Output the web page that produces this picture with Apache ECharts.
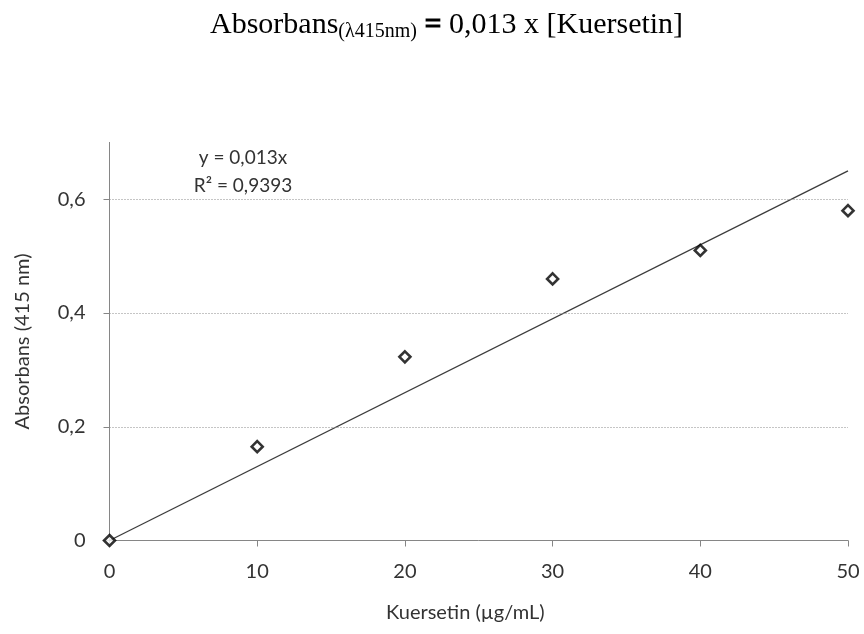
<!DOCTYPE html>
<html>
<head>
<meta charset="utf-8">
<script src="https://cdn.jsdelivr.net/npm/echarts@6/dist/echarts.min.js"></script>
<style>
html,body{margin:0;padding:0;background:#fff;}
#chart{width:864px;height:634px;}
</style>
</head>
<body>
<div id="chart"></div>
<script>
// Data
var concentrations = [0, 10, 20, 30, 40, 50];
var absorbance = [0, 0.165, 0.323, 0.46, 0.51, 0.58];
var trendSlope = 0.013;
var trendLabel = 'y = 0,013x';
var r2Label = 'R² = 0,9393';
var xTicks = [0, 10, 20, 30, 40, 50];
var yTicks = [0, 0.2, 0.4, 0.6];

var scatterData = concentrations.map(function (c, i) { return [c, absorbance[i]]; });
var xFirst = concentrations[0], xLast = concentrations[concentrations.length - 1];
var trendData = [[xFirst, trendSlope * xFirst], [xLast, trendSlope * xLast]];

function fmt(v) { return String(v).replace('.', ','); }

var labelFont = 'Lato, "Open Sans", sans-serif';
var serif = '"Liberation Serif", "Times New Roman", serif';
var textColor = '#333333';

var chart = echarts.init(document.getElementById('chart'), null, { renderer: 'canvas' });
chart.setOption({
  animation: false,
  backgroundColor: '#ffffff',
  title: [{
    text: '{a|Absorbans}{s|(λ415nm)}{e| =}{a| 0,013 x [Kuersetin]}',
    left: 205,
    top: 3,
    textStyle: {
      fontWeight: 'normal',
      rich: {
        a: { fontFamily: serif, fontSize: 30, lineHeight: 34, fontWeight: 'normal', color: '#000' },
        s: { fontFamily: serif, fontSize: 20, lineHeight: 19, fontWeight: 'normal', verticalAlign: 'bottom', color: '#000' },
        e: { fontFamily: serif, fontSize: 30, lineHeight: 34, fontWeight: 900, color: '#000', textBorderColor: '#000', textBorderWidth: 0.8 }
      }
    }
  }, {
    text: trendLabel + '\n' + r2Label,
    left: 238,
    top: 139,
    textAlign: 'center',
    textStyle: { fontFamily: labelFont, fontSize: 19, fontWeight: 'normal', color: textColor, lineHeight: 28, align: 'center' }
  }],
  grid: {
    left: 109.5,
    right: 16,
    top: 142.4,
    bottom: 93.5,
    outerBoundsMode: 'none'
  },
  xAxis: {
    type: 'value',
    min: 0,
    max: 50,
    interval: 10,
    name: 'Kuersetin (µg/mL)',
    nameLocation: 'middle',
    nameGap: 62,
    nameTextStyle: { fontFamily: labelFont, fontSize: 20, color: textColor, padding: [0, 27, 0, 0] },
    axisLine: { show: true, onZero: false, lineStyle: { color: '#868686', width: 1 } },
    axisTick: { show: true, inside: false, length: 6, lineStyle: { color: '#868686' }, customValues: xTicks },
    axisLabel: { fontFamily: labelFont, fontSize: 20, color: textColor, margin: 21, customValues: xTicks, formatter: fmt },
    splitLine: { show: false }
  },
  yAxis: {
    type: 'value',
    min: 0,
    max: 0.7,
    name: 'Absorbans (415 nm)',
    nameLocation: 'middle',
    nameGap: 77,
    nameTextStyle: { fontFamily: labelFont, fontSize: 20, color: textColor },
    axisLine: { show: true, onZero: false, lineStyle: { color: '#868686', width: 1 } },
    axisTick: { show: true, inside: false, length: 6, lineStyle: { color: '#868686' }, customValues: yTicks },
    axisLabel: { fontFamily: labelFont, fontSize: 20, color: textColor, margin: 24, customValues: yTicks, formatter: fmt },
    splitLine: { show: false }
  },
  series: [{
    type: 'line',
    data: trendData,
    symbol: 'none',
    z: 2,
    lineStyle: { color: '#3c3c3c', width: 1.3 },
    markLine: {
      silent: true,
      symbol: 'none',
      label: { show: false },
      lineStyle: { color: '#8a8a8a', type: [1, 2], width: 1 },
      data: yTicks.filter(function (v) { return v > 0; }).map(function (v) {
        return [{ coord: [xFirst, v] }, { coord: [xLast, v] }];
      })
    }
  }, {
    type: 'scatter',
    data: scatterData,
    symbol: 'diamond',
    symbolSize: [11, 11],
    z: 3,
    itemStyle: { color: '#ffffff', borderColor: '#000000', borderWidth: 2.6 }
  }]
});
</script>
</body>
</html>
